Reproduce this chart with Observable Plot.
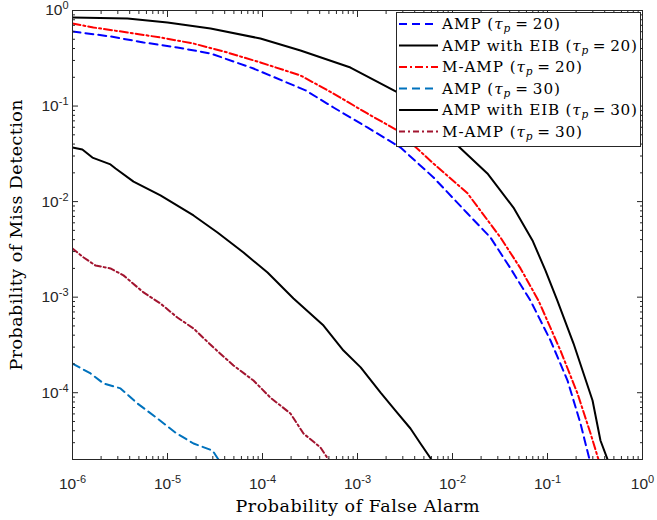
<!DOCTYPE html>
<html>
<head>
<meta charset="utf-8">
<script src="https://cdn.jsdelivr.net/npm/d3@7"></script>
<script src="https://cdn.jsdelivr.net/npm/@observablehq/plot@0.6"></script>
<style>
  body { margin: 0; background: #fff; }
  #chart { position: relative; width: 657px; height: 520px; background: #fff; }
  #legend { position: absolute; left: 396px; top: 12px; }
</style>
</head>
<body>
<div id="chart"></div>
<script>
// Probability of false alarm (x) and miss detection (y) for each detector.
const pfaAmp20 = [1e-6, 2.51e-6, 5.59e-6, 1.27e-5, 2.84e-5, 8.04e-5, 2.84e-4, 5.59e-4, 1.27e-3, 2.84e-3, 6.31e-3, 1.44e-2, 2.51e-2, 4.08e-2, 6.62e-2, 0.1076, 0.1625, 0.2225, 0.277];
const pmdAmp20 = [0.603, 0.535, 0.463, 0.410, 0.355, 0.247, 0.146, 0.0966, 0.0597, 0.0368, 0.0179, 7.5e-3, 4.21e-3, 2.0e-3, 9.2e-4, 3.52e-4, 1.34e-4, 4.76e-5, 2.0e-5];

const pfaEib20 = [1e-6, 3.79e-6, 1e-5, 2.84e-5, 9.5e-5, 2.51e-4, 8.43e-4, 2.64e-3, 1.13e-2, 2.33e-2, 4.38e-2, 6.95e-2, 9.53e-2, 0.127, 0.188, 0.298, 0.361, 0.429];
const pmdEib20 = [0.845, 0.825, 0.749, 0.648, 0.509, 0.381, 0.253, 0.139, 0.0387, 0.0197, 8.67e-3, 3.92e-3, 1.9e-3, 9.2e-4, 3.27e-4, 8.28e-5, 3.16e-5, 2.0e-5];

const pfaMamp20 = [1e-6, 1.66e-6, 3.79e-6, 8.43e-6, 1.88e-5, 4.28e-5, 9.5e-5, 2.51e-4, 5.59e-4, 1.27e-3, 2.64e-3, 6.31e-3, 1.44e-2, 3.2e-2, 5.2e-2, 8.04e-2, 0.137, 0.207, 0.284, 0.344];
const pmdMamp20 = [0.731, 0.664, 0.589, 0.522, 0.451, 0.363, 0.286, 0.209, 0.135, 0.0836, 0.0555, 0.025, 0.0122, 4.21e-3, 2.0e-3, 9.2e-4, 2.76e-4, 9.8e-5, 3.74e-5, 2.0e-5];

const pfaAmp30 = [1e-6, 1.55e-6, 2.12e-6, 3.2e-6, 4.83e-6, 7.85e-6, 1.21e-5, 1.88e-5, 2.98e-5, 3.44e-5];
const pmdAmp30 = [2.02e-4, 1.59e-4, 1.25e-4, 1.11e-4, 7.71e-5, 5.37e-5, 3.83e-5, 2.94e-5, 2.48e-5, 2.0e-5];

const pfaEib30 = [1e-6, 1.27e-6, 1.62e-6, 2.51e-6, 2.84e-6, 4.39e-6, 8.43e-6, 1.88e-5, 3.36e-5, 6.31e-5, 1.13e-4, 2.12e-4, 4.39e-4, 7.12e-4, 1.08e-3, 1.75e-3, 2.51e-3, 3.61e-3, 4.6e-3, 6.0e-3];
const pmdEib30 = [0.0368, 0.0351, 0.0289, 0.0245, 0.0222, 0.0162, 0.0116, 7.16e-3, 4.75e-3, 2.93e-3, 1.81e-3, 9.68e-4, 5.05e-4, 2.76e-4, 1.84e-4, 1.0e-4, 6.5e-5, 4.22e-5, 2.94e-5, 2.0e-5];

const pfaMamp30 = [1e-6, 1.31e-6, 1.75e-6, 2.51e-6, 3.44e-6, 5.59e-6, 8.43e-6, 1.27e-5, 1.88e-5, 3.05e-5, 4.95e-5, 8.04e-5, 1.21e-4, 1.97e-4, 2.7e-4, 4.08e-4, 4.95e-4];
const pmdMamp30 = [3.23e-3, 2.6e-3, 2.14e-3, 2.0e-3, 1.69e-3, 1.12e-3, 8.59e-4, 6.12e-4, 4.7e-4, 2.97e-4, 1.93e-4, 1.34e-4, 8.9e-5, 6.06e-5, 3.74e-5, 2.67e-5, 2.0e-5];

// Legend entries, in plotting order
const seriesNames = ["AMP", "AMP with EIB", "M-AMP", "AMP", "AMP with EIB", "M-AMP"];
const seriesTau = [20, 20, 20, 30, 30, 30];

// Axis ticks (decades carry labels)
const xMajor = [1e-6, 1e-5, 1e-4, 1e-3, 1e-2, 1e-1, 1];
const yMajor = [1e-4, 1e-3, 1e-2, 1e-1, 1];
const xTitle = "Probability of False Alarm";
const yTitle = "Probability of Miss Detection";

const xMinor = d3.range(-6, 0).flatMap(k => d3.range(2, 10).map(m => m * Math.pow(10, k)));
const yMinor = d3.range(-5, 0).flatMap(k => d3.range(2, 10).map(m => m * Math.pow(10, k)));

const styles = [
  {color: "#0000ff", dash: "8,5"},
  {color: "#000000", dash: null},
  {color: "#ff0000", dash: "8,3,2,3"},
  {color: "#0072bd", dash: "8,5"},
  {color: "#000000", dash: null},
  {color: "#a2142f", dash: "6,3,2,3"}
];
const xs = [pfaAmp20, pfaEib20, pfaMamp20, pfaAmp30, pfaEib30, pfaMamp30];
const ys = [pmdAmp20, pmdEib20, pmdMamp20, pmdAmp30, pmdEib30, pmdMamp30];
const curves = xs.map((xv, s) => xv.map((x, i) => ({pfa: x, pmd: ys[s][i]})));

const axisColor = "#262626";
const sansFont = "'Liberation Sans', Arial, sans-serif";
const serifFont = "'DejaVu Serif', serif";
const expFormat = d => `10^${Math.round(Math.log10(d))}`;

const plot = Plot.plot({
  width: 657,
  height: 520,
  marginLeft: 72,
  marginRight: 15,
  marginTop: 10,
  marginBottom: 61,
  style: {fontFamily: sansFont, fontSize: "15px", color: axisColor, background: "#fff", overflow: "visible"},
  x: {type: "log", domain: [1e-6, 1]},
  y: {type: "log", domain: [2e-5, 1]},
  marks: [
    ...curves.map((c, s) => Plot.line(c, {
      x: "pfa", y: "pmd",
      stroke: styles[s].color,
      strokeWidth: 2,
      strokeDasharray: styles[s].dash,
      clip: true
    })),
    Plot.frame({stroke: axisColor, strokeWidth: 1}),
    // inward ticks on all four sides
    Plot.axisX(xMajor, {anchor: "bottom", tickSize: -6, fill: "none", stroke: axisColor, label: null}),
    Plot.axisX(xMinor, {anchor: "bottom", tickSize: -3, fill: "none", stroke: axisColor, label: null}),
    Plot.axisX(xMajor, {anchor: "top", tickSize: -6, fill: "none", stroke: axisColor, label: null}),
    Plot.axisX(xMinor, {anchor: "top", tickSize: -3, fill: "none", stroke: axisColor, label: null}),
    Plot.axisY(yMajor, {anchor: "left", tickSize: -6, fill: "none", stroke: axisColor, label: null}),
    Plot.axisY(yMinor, {anchor: "left", tickSize: -3, fill: "none", stroke: axisColor, label: null}),
    Plot.axisY(yMajor, {anchor: "right", tickSize: -6, fill: "none", stroke: axisColor, label: null}),
    Plot.axisY(yMinor, {anchor: "right", tickSize: -3, fill: "none", stroke: axisColor, label: null}),
    // decade labels
    Plot.axisX(xMajor, {anchor: "bottom", tickSize: 0, tickPadding: 18, tickFormat: expFormat, fontSize: 15, fontFamily: sansFont, fill: axisColor, label: null}),
    Plot.axisY(yMajor, {anchor: "left", tickSize: 0, tickPadding: 4, tickFormat: expFormat, fontSize: 15, fontFamily: sansFont, fill: axisColor, label: null}),
    // axis titles
    Plot.text([xTitle], {frameAnchor: "bottom", dy: 47, textAnchor: "middle", lineAnchor: "middle", fontFamily: serifFont, fontSize: 17.5, fill: "#000"}),
    Plot.text([yTitle], {frameAnchor: "left", rotate: -90, dx: -56, textAnchor: "middle", lineAnchor: "middle", fontFamily: serifFont, fontSize: 17.5, fill: "#000"})
  ]
});

// Turn "10^k" labels into a base with a raised exponent
plot.querySelectorAll("text").forEach(t => {
  const m = /^10\^(-?\d+)$/.exec(t.textContent);
  if (!m) return;
  t.textContent = "10";
  t.style.fontSize = "15.5px";
  t.style.fontFamily = sansFont;
  const sup = document.createElementNS("http://www.w3.org/2000/svg", "tspan");
  sup.setAttribute("dy", "-6");
  sup.style.fontSize = "11px";
  sup.textContent = m[1];
  t.appendChild(sup);
});

// Widen the serif titles to the typeset width
plot.querySelectorAll("text").forEach(t => {
  if (t.textContent === xTitle) { t.setAttribute("textLength", 244); t.setAttribute("lengthAdjust", "spacing"); }
  if (t.textContent === yTitle) { t.setAttribute("textLength", 271); t.setAttribute("lengthAdjust", "spacing"); }
});

const chart = document.getElementById("chart");
chart.appendChild(plot);

// Legend box drawn over the upper-right corner of the axes
const rowH = 21.5;
const rowWidth = [118, 195, 140, 118, 195, 140];
const legend = d3.select(chart).append("svg")
  .attr("id", "legend")
  .attr("width", 246)
  .attr("height", 136);
legend.append("rect")
  .attr("x", 0.5).attr("y", 0.5)
  .attr("width", 244).attr("height", 134)
  .attr("fill", "#fff").attr("stroke", axisColor).attr("stroke-width", 1);
seriesNames.forEach((name, i) => {
  const cy = 12 + i * rowH;
  legend.append("line")
    .attr("x1", 3).attr("x2", 42).attr("y1", cy).attr("y2", cy)
    .attr("stroke", styles[i].color).attr("stroke-width", 2)
    .attr("stroke-dasharray", styles[i].dash);
  const t = legend.append("text")
    .attr("x", 46).attr("y", cy + 5)
    .attr("font-family", serifFont).attr("font-size", 15.2).attr("fill", "#000")
    .attr("textLength", rowWidth[i]).attr("lengthAdjust", "spacing");
  t.append("tspan").text(`${name} (`);
  t.append("tspan").attr("font-style", "italic").text("τ");
  t.append("tspan").attr("font-style", "italic").attr("font-size", 10.5).attr("dy", 3).text("p");
  t.append("tspan").attr("dy", -3).text(`\u2009=\u2009${seriesTau[i]})`);
});
</script>
</body>
</html>
